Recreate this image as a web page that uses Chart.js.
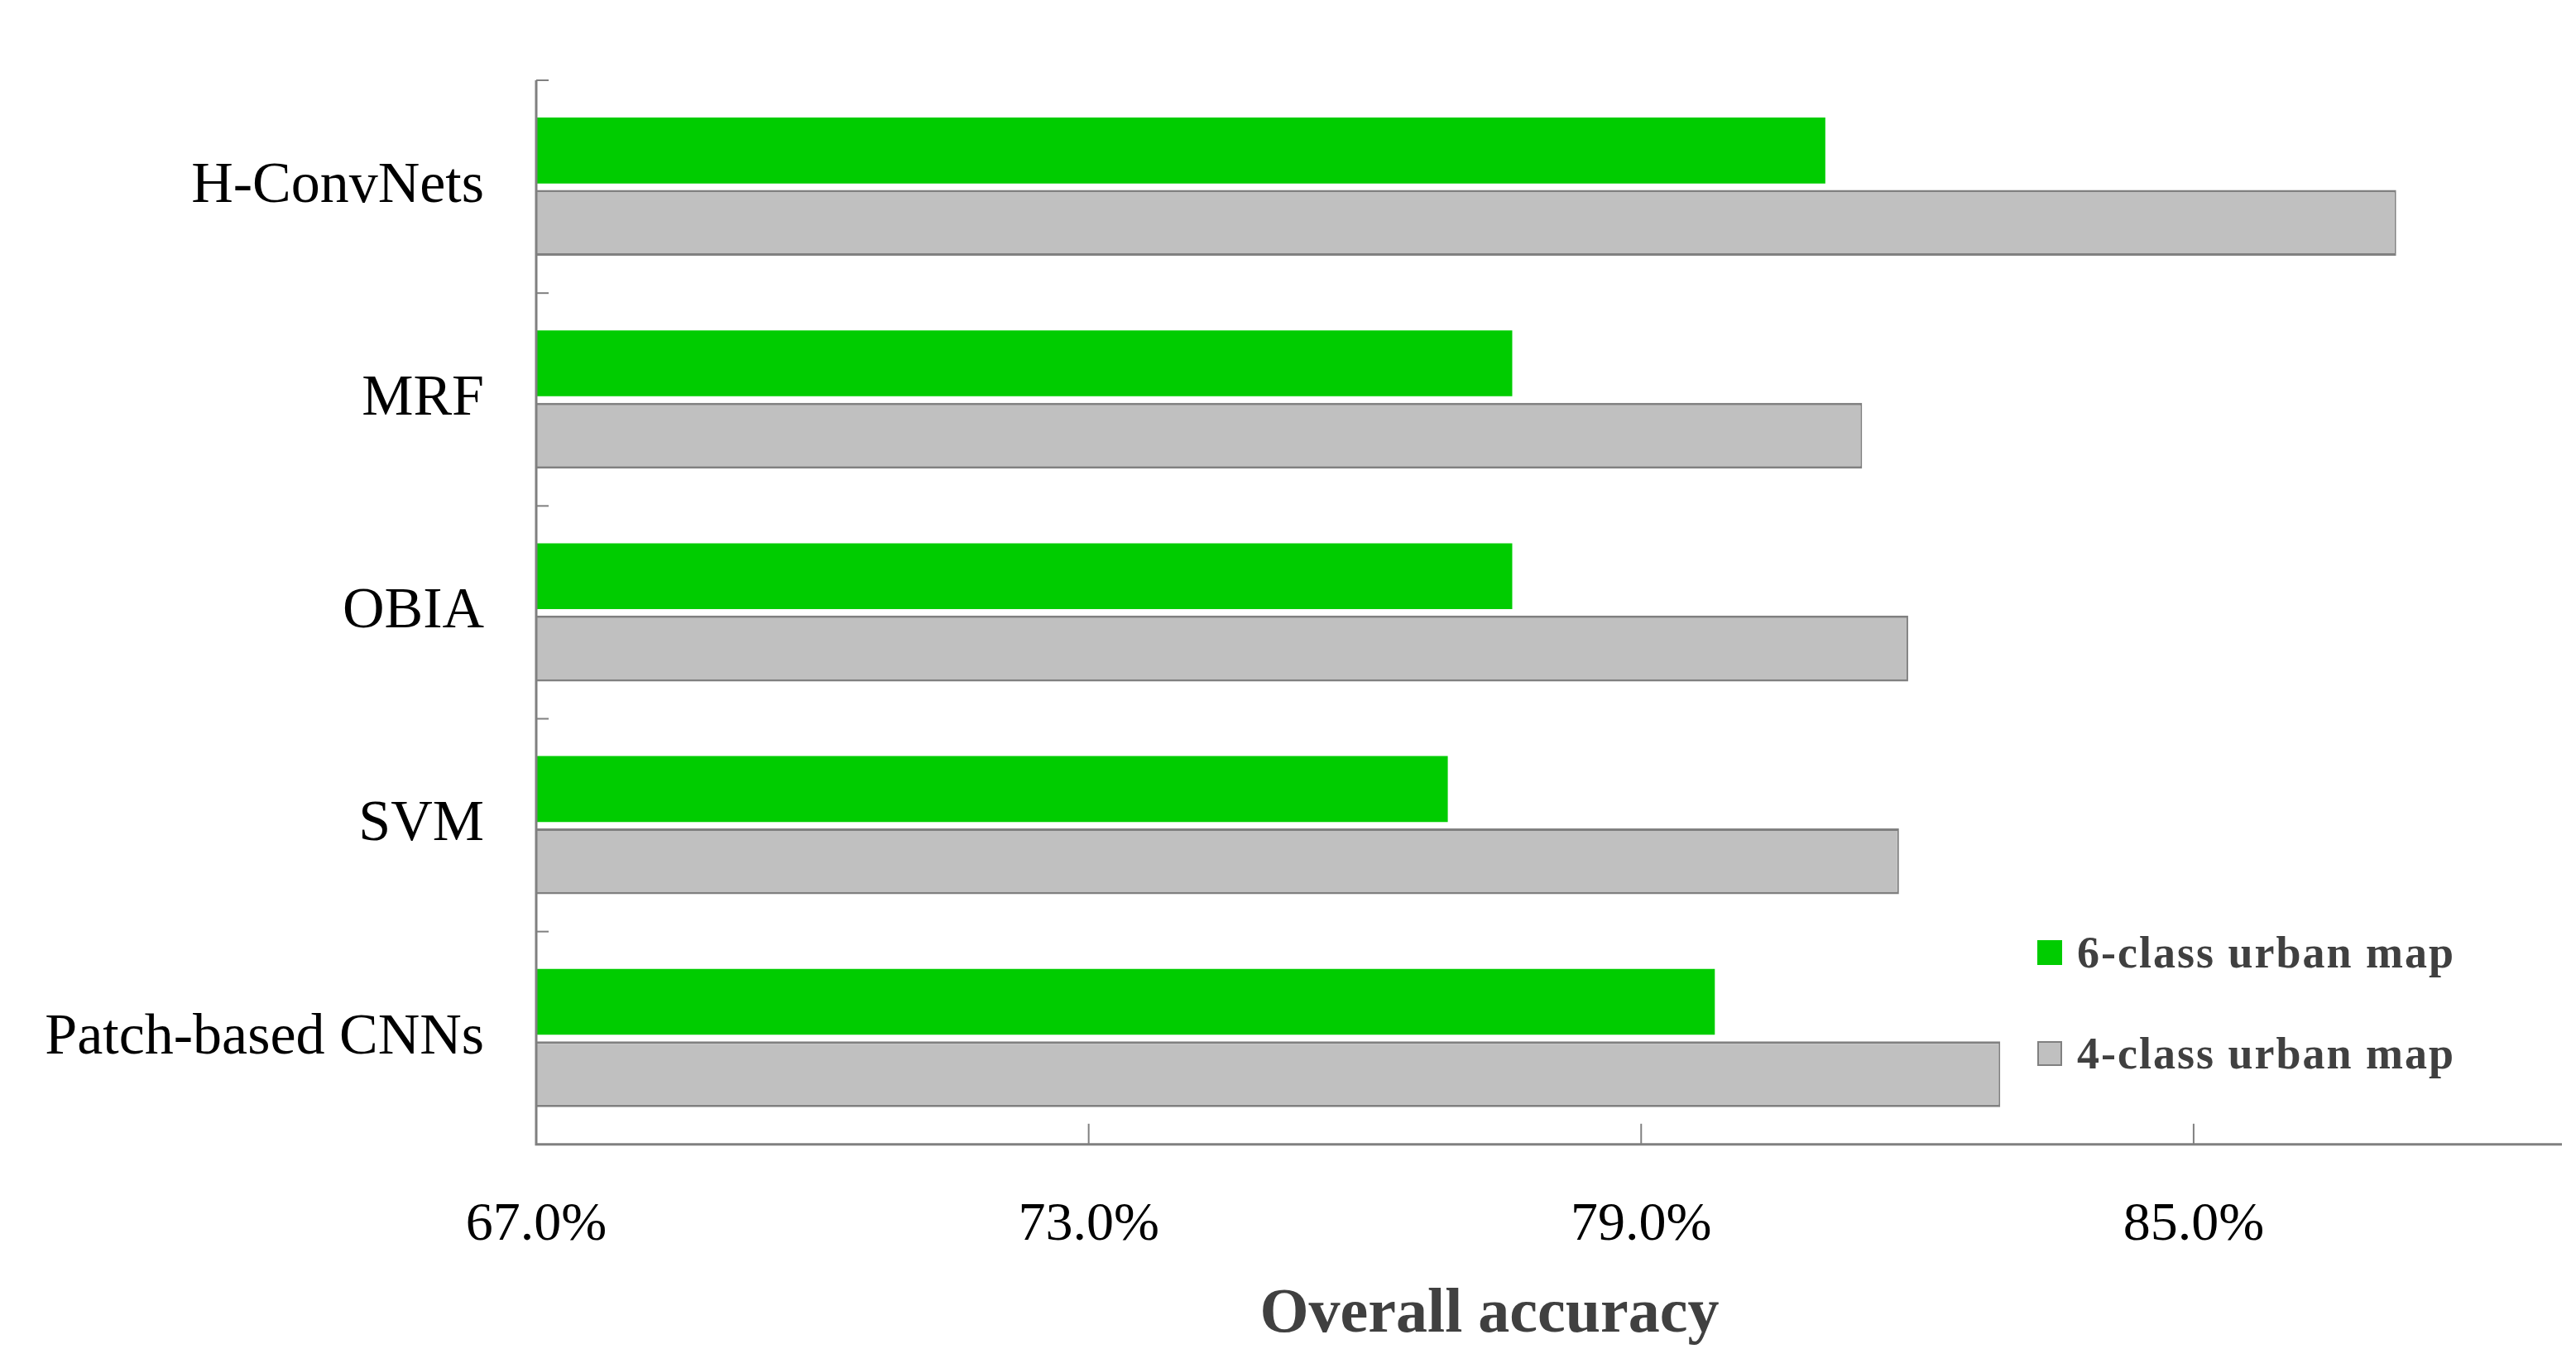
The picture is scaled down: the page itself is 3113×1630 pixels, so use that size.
<!DOCTYPE html>
<html><head><meta charset="utf-8">
<script src="https://cdn.jsdelivr.net/npm/chart.js@4"></script>
<style>
html,body{margin:0;padding:0;background:#fff;}
#wrap{position:relative;width:3113px;height:1630px;}
.leg{position:absolute;left:2462px;font:bold 54px "Liberation Serif",serif;color:#404040;display:flex;align-items:center;letter-spacing:2px;}
.sw{width:30px;height:30px;margin-right:18px;box-sizing:border-box;}
#title{position:absolute;left:1500px;width:600px;top:1540px;text-align:center;font:bold 76px "Liberation Serif",serif;color:#404040;}
</style></head><body>
<div id="wrap"><canvas id="c" width="3113" height="1630"></canvas>
<div class="leg" style="top:1120px"><div class="sw" style="background:#00CC00"></div>6-class urban map</div>
<div class="leg" style="top:1242px"><div class="sw" style="background:#C0C0C0;border:2px solid #808080"></div>4-class urban map</div>
<div id="title">Overall accuracy</div>
</div>
<script>
const categories = ["H-ConvNets","MRF","OBIA","SVM","Patch-based CNNs"];
const sixClass = [81.0, 77.6, 77.6, 76.9, 79.8];
const fourClass = [87.2, 81.4, 81.9, 81.8, 82.9];
const xTicks = [67, 73, 79, 85];

const inwardTicks = {
  id:'inwardTicks',
  afterDraw(chart){
    const ctx=chart.ctx, x=chart.scales.x, y=chart.scales.y, a=chart.chartArea;
    ctx.save(); ctx.strokeStyle='#808080'; ctx.lineWidth=3;
    ctx.beginPath(); ctx.moveTo(a.left,a.top); ctx.lineTo(a.left,a.bottom); ctx.lineTo(a.right,a.bottom); ctx.stroke();
    ctx.lineWidth=2;
    xTicks.forEach(v=>{ if(v===x.min) return; const px=x.getPixelForValue(v); ctx.beginPath(); ctx.moveTo(px,a.bottom); ctx.lineTo(px,a.bottom-25); ctx.stroke();});
    const band=(y.getPixelForValue(1)-y.getPixelForValue(0));
    for(let i=0;i<categories.length;i++){ const py=y.getPixelForValue(i)-band/2; ctx.beginPath(); ctx.moveTo(a.left,py); ctx.lineTo(a.left+15,py); ctx.stroke();}
    ctx.restore();
  }
};

new Chart(document.getElementById('c'),{
  type:'bar',
  data:{labels:categories,datasets:[
    {label:'6-class urban map',data:sixClass,backgroundColor:'#00CC00',borderWidth:0,categoryPercentage:0.68,barPercentage:0.91},
    {label:'4-class urban map',data:fourClass,backgroundColor:'#C0C0C0',borderColor:'#808080',borderWidth:{top:3,bottom:3,right:2,left:0},borderSkipped:false,categoryPercentage:0.68,barPercentage:0.91}
  ]},
  options:{
    indexAxis:'y',responsive:false,animation:false,devicePixelRatio:1,
    layout:{padding:{top:-34,right:17,left:0,bottom:60}},
    plugins:{legend:{display:false},tooltip:{enabled:false}},
    scales:{
      x:{min:67,max:89,
        afterBuildTicks(s){s.ticks=xTicks.map(v=>({value:v}));},
        grid:{display:false},border:{display:false},
        ticks:{padding:50,color:'#000',font:{family:'Liberation Serif',size:66},callback:v=>Number(v).toFixed(1)+'%'}
      },
      y:{grid:{display:false},border:{display:false},
        afterFit(s){s.width=648;},
        ticks:{padding:55,color:'#000',font:{family:'Liberation Serif',size:70}}
      }
    }
  },
  plugins:[inwardTicks]
});
</script></body></html>
